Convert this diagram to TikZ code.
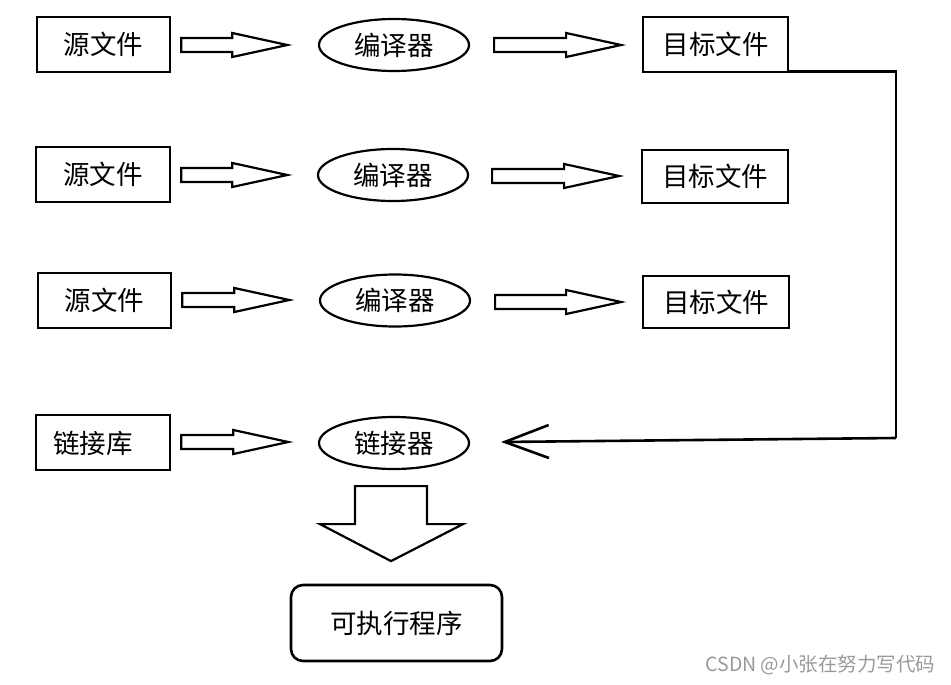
\documentclass[tikz,border=0pt]{standalone}
\usepackage{fontspec}
\setmainfont{Noto Sans CJK SC}
\newfontfamily\cjk{Noto Sans CJK SC}
\usetikzlibrary{shapes.geometric,arrows.meta,calc}
\definecolor{wm}{HTML}{9A9A9A}
\begin{document}
\begin{tikzpicture}[x=1pt,y=-1pt,
  box/.style={draw,line width=2.6pt,inner sep=0pt,font=\cjk\fontsize{26.5}{28}\selectfont},
  ell/.style={draw,ellipse,line width=2.2pt,minimum width=150pt,minimum height=52pt,inner sep=0pt,font=\cjk\fontsize{26.5}{28}\selectfont},
  blk/.style={draw,line width=2.2pt,line join=miter,fill=white},
  wire/.style={line width=2.6pt},
  pics/barrow/.style={code={\draw[blk] (0,-7) -- (#1-55,-7) -- (#1-55,-12) -- (#1,0) -- (#1-55,12) -- (#1-55,7) -- (0,7) -- cycle;}}]
\useasboundingbox[fill=white] (0,0) rectangle (951,685);

% sources
\node[box,minimum width=133pt,minimum height=55pt] (src1) at (103.5,44.5) {源文件};
\node[box,minimum width=134pt,minimum height=55pt] (src2) at (103,174.5) {源文件};
\node[box,minimum width=133pt,minimum height=55pt] (src3) at (104.5,300.5) {源文件};
\node[box,minimum width=134pt,minimum height=55pt] (lib) at (103,442.5) {};
\node[font=\cjk\fontsize{26.5}{28}\selectfont,inner sep=0pt] (libtxt) at ($(lib)+(-10,1)$) {链接库};

% compilers
\node[ell] (c1) at (394,45) {编译器};
\node[ell] (c2) at (393,175) {编译器};
\node[ell] (c3) at (395,300.5) {编译器};
\node[ell] (lk) at (394,443) {链接器};

% targets
\node[box,minimum width=145pt,minimum height=55pt] (t1) at (715.5,44.5) {目标文件};
\node[box,minimum width=146pt,minimum height=53pt] (t2) at (715,176.5) {目标文件};
\node[box,minimum width=146pt,minimum height=52pt] (t3) at (716,302) {目标文件};

% block arrows
\pic at ($(src1.east)+(10,0.5)$) {barrow=106};
\pic at ($(src2.east)+(10,0.5)$) {barrow=106};
\pic at ($(src3.east)+(10,-0.5)$) {barrow=107};
\pic at ($(lib.east)+(10,-0.5)$) {barrow=107};
\pic at ($(c1.east)+(24,0)$) {barrow=127};
\pic at ($(c2.east)+(23,1)$) {barrow=127};
\pic at ($(c3.east)+(24,1.5)$) {barrow=126};

% bus
\coordinate (busend) at (896,438);
\draw[wire] ($(t1.south east)+(0,-2)$) -| (busend);
\draw[wire] ($(t2.south east)+(0,-2)$) -- ($(t2.south east)+(0,-2)$ -| busend);
\draw[wire] ($(t3.south east)+(0,-2)$) -- ($(t3.south east)+(0,-2)$ -| busend);
\draw[wire,-{Straight Barb[length=44pt,width=33pt,line width=2.6pt]}] (busend) -- ($(lk.east)+(31,-1)$);

% big down arrow
\draw[blk] ($(lk.south)+(-39,16)$) -- ++(72,0) -- ++(0,38) -- ++(36,0) -- ($(lk.south)+(-3,91)$) -- ($(lk.south)+(-74,54)$) -- ($(lk.south)+(-39,54)$) -- cycle;

% result
\node[box,rounded corners=12pt,minimum width=211pt,minimum height=76pt] (exe) at (396.5,623) {可执行程序};

% watermark
\node[font=\cjk\fontsize{19.5}{21}\selectfont,text=wm,inner sep=0pt] (wmk) at (820.5,665) {CSDN @小张在努力写代码};
\end{tikzpicture}
\end{document}
